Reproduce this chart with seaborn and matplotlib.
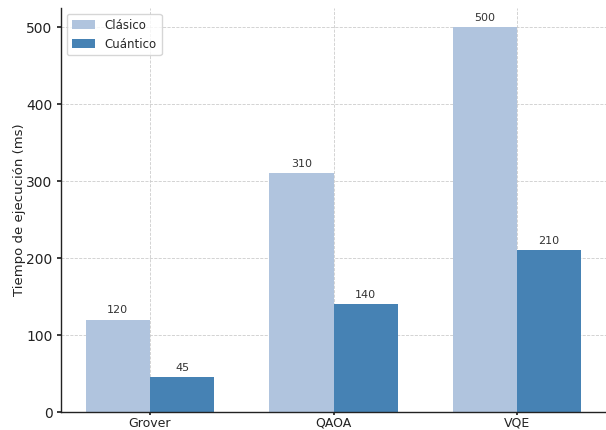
import matplotlib
matplotlib.use("Agg")
import matplotlib.pyplot as plt
import seaborn as sns
import pandas as pd

algorithms = ["Grover", "QAOA", "VQE"]
clasico = [120, 310, 500]
cuantico = [45, 140, 210]
series_names = ["Clásico", "Cuántico"]

df = pd.DataFrame({
    "Algoritmo": algorithms * 2,
    "Tiempo": clasico + cuantico,
    "Tipo": [series_names[0]] * 3 + [series_names[1]] * 3,
})

sns.set_theme(style="white")
plt.rcParams['font.family'] = ['DejaVu Sans']

fig = plt.figure(figsize=(6.06, 4.30), dpi=100)
ax = fig.add_axes([61/606, 18/430, 545/606, 404/430])

sns.barplot(data=df, x="Algoritmo", y="Tiempo", hue="Tipo",
            palette=["lightsteelblue", "steelblue"], saturation=1,
            width=0.7, gap=0, ax=ax, errorbar=None, linewidth=0)

for c in ax.containers:
    ax.bar_label(c, fmt="%d", padding=3, fontsize=8, color="#333333")

ax.grid(True, linestyle="--", color="#cccccc", linewidth=0.6)
ax.set_axisbelow(True)
ax.set_xlabel("")
ax.set_ylabel("Tiempo de ejecución (ms)", fontsize=9.5, color="#222222", labelpad=0)
ax.tick_params(axis="x", labelsize=9, colors="#222222", length=2, pad=1.5, bottom=True)
ax.tick_params(axis="y", labelsize=10, colors="#222222", length=3, pad=3, left=True)
for s in ["top", "right"]:
    ax.spines[s].set_visible(False)
for s in ["left", "bottom"]:
    ax.spines[s].set_color("#222222")
    ax.spines[s].set_linewidth(1)
ax.set_ylim(0, 525)
ax.margins(x=0.05)
leg = ax.legend(loc="upper left", fontsize=8.5, frameon=True, title=None)
fig.savefig("out.png", dpi=100)
